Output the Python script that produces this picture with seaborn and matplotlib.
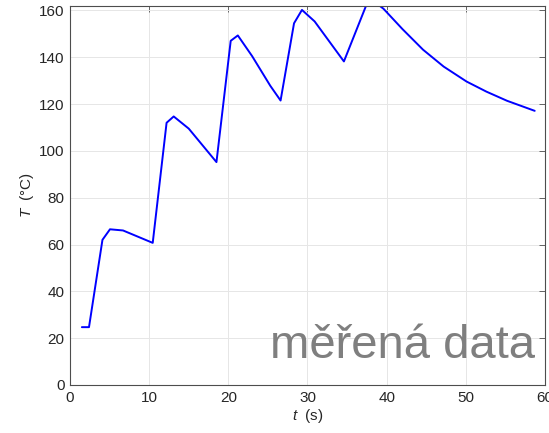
import matplotlib
matplotlib.use("Agg")
import matplotlib.pyplot as plt
import seaborn as sns
import pandas as pd

t = [1.5, 2.4, 4.1, 5.05, 6.7, 10.45, 12.2, 13.1, 15.0, 18.5, 20.3, 21.2,
     23.0, 25.3, 26.6, 28.3, 29.3, 30.9, 34.6, 37.4, 39.1, 39.6, 42.0,
     44.6, 47.2, 50.1, 52.6, 55.2, 58.7]
T = [24.7, 24.7, 62.0, 66.5, 66.0, 60.7, 112.0, 114.7, 109.5, 95.2, 147.0, 149.3,
     140.5, 127.8, 121.5, 154.5, 160.2, 155.3, 138.2, 162.0, 162.0, 160.7, 152.0,
     143.2, 136.0, 129.6, 125.3, 121.4, 117.1]
xticks = [0, 10, 20, 30, 40, 50, 60]
yticks = [0, 20, 40, 60, 80, 100, 120, 140, 160]
label = "měřená data"

df = pd.DataFrame({"t": t, "T": T})

sns.set_theme(style="whitegrid")
plt.rcParams["font.family"] = ["Liberation Sans", "DejaVu Sans"]
plt.rcParams["mathtext.fontset"] = "custom"
plt.rcParams["mathtext.it"] = "Liberation Sans:italic"
plt.rcParams["mathtext.rm"] = "Liberation Sans"

fig = plt.figure(figsize=(5.49, 4.33), dpi=100)
ax = fig.add_axes([0.1275, 0.1109, 0.8652, 0.8759])

sns.lineplot(data=df, x="t", y="T", ax=ax, color=(0, 0, 1), linewidth=1.4)

ax.set_xlim(0, 60)
ax.set_ylim(0, 162)
ax.set_xticks(xticks)
ax.set_yticks(yticks)

dark = "#262626"
for s in ax.spines.values():
    s.set_visible(True)
    s.set_color("#4d4d4d")
    s.set_linewidth(0.8)
ax.tick_params(direction="in", length=4, width=0.6, colors="#4d4d4d",
               labelcolor=dark, labelsize=11, top=True, right=True,
               labeltop=False, labelright=False, pad=4)
ax.grid(True, color="#e6e6e6", linewidth=0.7)

ax.set_xlabel("$t$  (s)", fontsize=11, color=dark, labelpad=2)
ax.set_ylabel("$T$  (°C)", fontsize=11, color=dark, labelpad=2)

ax.text(0.979, 0.07, label, transform=ax.transAxes, ha="right", va="baseline",
        fontsize=34, color="#7f7f7f")

fig.savefig("out.png", dpi=100)
